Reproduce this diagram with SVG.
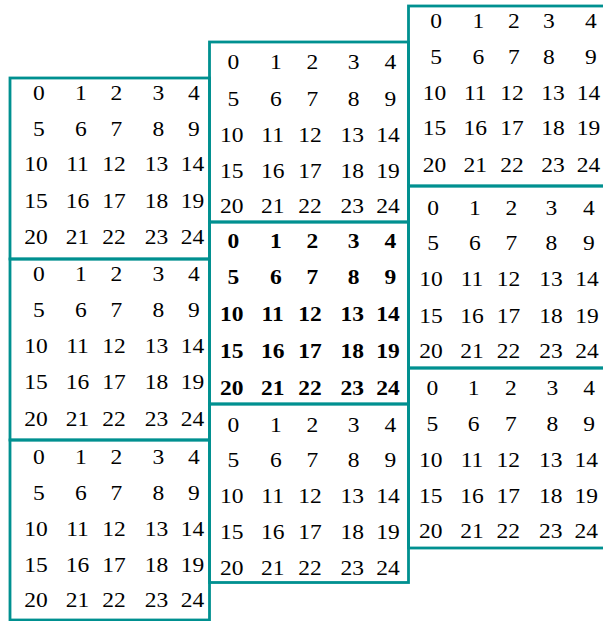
<svg xmlns="http://www.w3.org/2000/svg" width="603" height="621" viewBox="0 0 603 621">
<style>
.bx{fill:none;stroke:#009090;stroke-width:2.8}
text{font-family:"Liberation Serif","Times New Roman",serif;font-size:21px;fill:#000}
tspan{text-anchor:middle}
.b text{font-weight:bold}
</style>
<rect width="603" height="621" fill="#fff"/>
<g id="L1">
<rect class="bx" x="10" y="78" width="199.5" height="181"/>
<g transform="scale(1.12,1)">
<text y="100.5"><tspan x="34.82">0</tspan><tspan x="72.32">1</tspan><tspan x="104.02">2</tspan><tspan x="141.52">3</tspan><tspan x="173.21">4</tspan></text>
<text y="136.5"><tspan x="34.82">5</tspan><tspan x="72.32">6</tspan><tspan x="104.02">7</tspan><tspan x="141.52">8</tspan><tspan x="173.21">9</tspan></text>
<text y="171.5"><tspan x="32.14">10</tspan><tspan x="69.2">11</tspan><tspan x="101.79">12</tspan><tspan x="139.73">13</tspan><tspan x="171.88">14</tspan></text>
<text y="208"><tspan x="32.14">15</tspan><tspan x="69.2">16</tspan><tspan x="101.79">17</tspan><tspan x="139.73">18</tspan><tspan x="171.88">19</tspan></text>
<text y="244"><tspan x="32.14">20</tspan><tspan x="69.2">21</tspan><tspan x="101.79">22</tspan><tspan x="139.73">23</tspan><tspan x="171.88">24</tspan></text>
</g>
</g>
<g id="L2">
<rect class="bx" x="10" y="259" width="199.5" height="181"/>
<g transform="scale(1.12,1)">
<text y="281"><tspan x="34.82">0</tspan><tspan x="72.32">1</tspan><tspan x="104.02">2</tspan><tspan x="141.52">3</tspan><tspan x="173.21">4</tspan></text>
<text y="317"><tspan x="34.82">5</tspan><tspan x="72.32">6</tspan><tspan x="104.02">7</tspan><tspan x="141.52">8</tspan><tspan x="173.21">9</tspan></text>
<text y="353"><tspan x="32.14">10</tspan><tspan x="69.2">11</tspan><tspan x="101.79">12</tspan><tspan x="139.73">13</tspan><tspan x="171.88">14</tspan></text>
<text y="389.5"><tspan x="32.14">15</tspan><tspan x="69.2">16</tspan><tspan x="101.79">17</tspan><tspan x="139.73">18</tspan><tspan x="171.88">19</tspan></text>
<text y="426"><tspan x="32.14">20</tspan><tspan x="69.2">21</tspan><tspan x="101.79">22</tspan><tspan x="139.73">23</tspan><tspan x="171.88">24</tspan></text>
</g>
</g>
<g id="L3">
<rect class="bx" x="10" y="440" width="199.5" height="180"/>
<g transform="scale(1.12,1)">
<text y="464"><tspan x="34.82">0</tspan><tspan x="72.32">1</tspan><tspan x="104.02">2</tspan><tspan x="141.52">3</tspan><tspan x="173.21">4</tspan></text>
<text y="500"><tspan x="34.82">5</tspan><tspan x="72.32">6</tspan><tspan x="104.02">7</tspan><tspan x="141.52">8</tspan><tspan x="173.21">9</tspan></text>
<text y="536"><tspan x="32.14">10</tspan><tspan x="69.2">11</tspan><tspan x="101.79">12</tspan><tspan x="139.73">13</tspan><tspan x="171.88">14</tspan></text>
<text y="571.7"><tspan x="32.14">15</tspan><tspan x="69.2">16</tspan><tspan x="101.79">17</tspan><tspan x="139.73">18</tspan><tspan x="171.88">19</tspan></text>
<text y="607.3"><tspan x="32.14">20</tspan><tspan x="69.2">21</tspan><tspan x="101.79">22</tspan><tspan x="139.73">23</tspan><tspan x="171.88">24</tspan></text>
</g>
</g>
<g id="M1">
<rect class="bx" x="209.5" y="42" width="199" height="180"/>
<g transform="scale(1.12,1)">
<text y="69"><tspan x="208.3">0</tspan><tspan x="246.43">1</tspan><tspan x="279.02">2</tspan><tspan x="315.63">3</tspan><tspan x="348.66">4</tspan></text>
<text y="106"><tspan x="208.3">5</tspan><tspan x="246.43">6</tspan><tspan x="279.02">7</tspan><tspan x="315.63">8</tspan><tspan x="348.66">9</tspan></text>
<text y="141.7"><tspan x="206.88">10</tspan><tspan x="243.48">11</tspan><tspan x="276.79">12</tspan><tspan x="314.46">13</tspan><tspan x="346.43">14</tspan></text>
<text y="177.7"><tspan x="206.88">15</tspan><tspan x="243.48">16</tspan><tspan x="276.79">17</tspan><tspan x="314.46">18</tspan><tspan x="346.43">19</tspan></text>
<text y="213.3"><tspan x="206.88">20</tspan><tspan x="243.48">21</tspan><tspan x="276.79">22</tspan><tspan x="314.46">23</tspan><tspan x="346.43">24</tspan></text>
</g>
</g>
<g id="M2" class="b">
<rect class="bx" x="209.5" y="222" width="199" height="182"/>
<g transform="scale(1.12,1)">
<text y="248.5"><tspan x="208.3">0</tspan><tspan x="246.43">1</tspan><tspan x="279.02">2</tspan><tspan x="315.63">3</tspan><tspan x="348.66">4</tspan></text>
<text y="284.5"><tspan x="208.3">5</tspan><tspan x="246.43">6</tspan><tspan x="279.02">7</tspan><tspan x="315.63">8</tspan><tspan x="348.66">9</tspan></text>
<text y="321"><tspan x="206.88">10</tspan><tspan x="243.48">11</tspan><tspan x="276.79">12</tspan><tspan x="314.46">13</tspan><tspan x="346.43">14</tspan></text>
<text y="358"><tspan x="206.88">15</tspan><tspan x="243.48">16</tspan><tspan x="276.79">17</tspan><tspan x="314.46">18</tspan><tspan x="346.43">19</tspan></text>
<text y="395"><tspan x="206.88">20</tspan><tspan x="243.48">21</tspan><tspan x="276.79">22</tspan><tspan x="314.46">23</tspan><tspan x="346.43">24</tspan></text>
</g>
</g>
<g id="M3">
<rect class="bx" x="209.5" y="404" width="199" height="178.5"/>
<g transform="scale(1.12,1)">
<text y="431.7"><tspan x="208.3">0</tspan><tspan x="246.43">1</tspan><tspan x="279.02">2</tspan><tspan x="315.63">3</tspan><tspan x="348.66">4</tspan></text>
<text y="467.3"><tspan x="208.3">5</tspan><tspan x="246.43">6</tspan><tspan x="279.02">7</tspan><tspan x="315.63">8</tspan><tspan x="348.66">9</tspan></text>
<text y="503.3"><tspan x="206.88">10</tspan><tspan x="243.48">11</tspan><tspan x="276.79">12</tspan><tspan x="314.46">13</tspan><tspan x="346.43">14</tspan></text>
<text y="539.3"><tspan x="206.88">15</tspan><tspan x="243.48">16</tspan><tspan x="276.79">17</tspan><tspan x="314.46">18</tspan><tspan x="346.43">19</tspan></text>
<text y="575"><tspan x="206.88">20</tspan><tspan x="243.48">21</tspan><tspan x="276.79">22</tspan><tspan x="314.46">23</tspan><tspan x="346.43">24</tspan></text>
</g>
</g>
<g id="R1">
<rect class="bx" x="408.5" y="6" width="200" height="180"/>
<g transform="scale(1.12,1)">
<text y="28.3"><tspan x="389.29">0</tspan><tspan x="427.23">1</tspan><tspan x="458.93">2</tspan><tspan x="490.18">3</tspan><tspan x="527.68">4</tspan></text>
<text y="64.3"><tspan x="389.29">5</tspan><tspan x="427.23">6</tspan><tspan x="458.93">7</tspan><tspan x="490.18">8</tspan><tspan x="527.68">9</tspan></text>
<text y="100"><tspan x="387.95">10</tspan><tspan x="424.38">11</tspan><tspan x="457.14">12</tspan><tspan x="493.75">13</tspan><tspan x="525.45">14</tspan></text>
<text y="135"><tspan x="387.95">15</tspan><tspan x="424.38">16</tspan><tspan x="457.14">17</tspan><tspan x="493.75">18</tspan><tspan x="525.45">19</tspan></text>
<text y="171.7"><tspan x="387.95">20</tspan><tspan x="424.38">21</tspan><tspan x="457.14">22</tspan><tspan x="493.75">23</tspan><tspan x="525.45">24</tspan></text>
</g>
</g>
<g id="R2">
<rect class="bx" x="408.5" y="186" width="200" height="182"/>
<g transform="scale(1.12,1)">
<text y="215"><tspan x="386.61">0</tspan><tspan x="424.11">1</tspan><tspan x="456.7">2</tspan><tspan x="492.41">3</tspan><tspan x="525.89">4</tspan></text>
<text y="250.5"><tspan x="386.61">5</tspan><tspan x="424.11">6</tspan><tspan x="456.7">7</tspan><tspan x="492.41">8</tspan><tspan x="525.89">9</tspan></text>
<text y="286.5"><tspan x="384.82">10</tspan><tspan x="421.43">11</tspan><tspan x="454.02">12</tspan><tspan x="491.96">13</tspan><tspan x="524.11">14</tspan></text>
<text y="323"><tspan x="384.82">15</tspan><tspan x="421.43">16</tspan><tspan x="454.02">17</tspan><tspan x="491.96">18</tspan><tspan x="524.11">19</tspan></text>
<text y="358.5"><tspan x="384.82">20</tspan><tspan x="421.43">21</tspan><tspan x="454.02">22</tspan><tspan x="491.96">23</tspan><tspan x="524.11">24</tspan></text>
</g>
</g>
<g id="R3">
<rect class="bx" x="408.5" y="368" width="200" height="180"/>
<g transform="scale(1.12,1)">
<text y="395"><tspan x="386.16">0</tspan><tspan x="422.95">1</tspan><tspan x="456.07">2</tspan><tspan x="493.3">3</tspan><tspan x="526.07">4</tspan></text>
<text y="431"><tspan x="386.16">5</tspan><tspan x="422.95">6</tspan><tspan x="456.07">7</tspan><tspan x="493.3">8</tspan><tspan x="526.07">9</tspan></text>
<text y="466.7"><tspan x="384.64">10</tspan><tspan x="421.43">11</tspan><tspan x="453.84">12</tspan><tspan x="491.79">13</tspan><tspan x="523.48">14</tspan></text>
<text y="502.7"><tspan x="384.64">15</tspan><tspan x="421.43">16</tspan><tspan x="453.84">17</tspan><tspan x="491.79">18</tspan><tspan x="523.48">19</tspan></text>
<text y="538.3"><tspan x="384.64">20</tspan><tspan x="421.43">21</tspan><tspan x="453.84">22</tspan><tspan x="491.79">23</tspan><tspan x="523.48">24</tspan></text>
</g>
</g>
<g id="connectors"></g>
</svg>
